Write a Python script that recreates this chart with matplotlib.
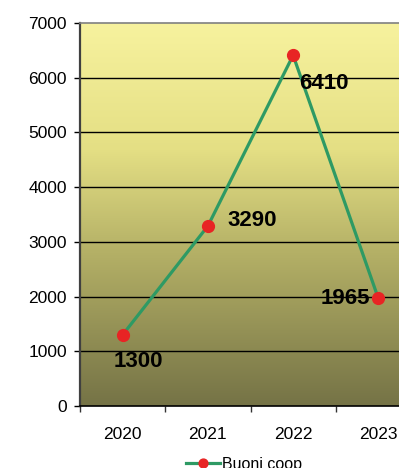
import numpy as np
import matplotlib
matplotlib.use("Agg")
import matplotlib.pyplot as plt
from matplotlib.colors import LinearSegmentedColormap

years = ["2020", "2021", "2022", "2023"]
buoni_coop = [1300, 3290, 6410, 1965]
series_name = "Buoni coop"
y_ticks = [0, 1000, 2000, 3000, 4000, 5000, 6000, 7000]
# label offsets (points) relative to each marker
label_offsets = [(11, -19), (32, 4), (22, -20), (-24, 0)]

plt.rcParams["font.family"] = ["Liberation Sans", "DejaVu Sans"]

W, H = 399, 468
fig = plt.figure(figsize=(W / 100, H / 100), dpi=100)
ax = fig.add_axes([80 / W, 1 - 406 / H, 341 / W, 383 / H])

x = np.arange(len(years))
ax.set_xlim(-0.5, len(years) - 0.5)
ax.set_ylim(0, 7000)

# vertical gradient background
grad = LinearSegmentedColormap.from_list(
    "bg",
    [(0.0, (117/255, 115/255, 70/255)),
     (0.4, (180/255, 176/255, 102/255)),
     (0.67, (228/255, 223/255, 132/255)),
     (1.0, (247/255, 242/255, 158/255))])
g = np.linspace(0, 1, 256).reshape(-1, 1)
ax.imshow(g, cmap=grad, origin="lower", aspect="auto",
          extent=(-0.5, len(years) - 0.5, 0, 7000), zorder=0)

for yv in y_ticks[1:-1]:
    ax.axhline(yv, color="black", lw=1.0, zorder=1)

ax.plot(x, buoni_coop, color="#2E9A64", lw=2.3, zorder=3,
        marker="o", markersize=8.5, markerfacecolor="#E82424",
        markeredgecolor="#E82424", label=series_name)

for xi, v, (dx, dy) in zip(x, buoni_coop, label_offsets):
    ax.annotate(f"{v}", (xi, v), xytext=(dx, dy), textcoords="offset points",
                ha="center", va="center", fontsize=16, fontweight="bold",
                color="black", zorder=4)

ax.set_yticks(y_ticks)
ax.set_yticklabels([str(t) for t in y_ticks], fontsize=12.5)
ax.tick_params(axis="y", length=4.5, width=1, pad=5, color="black")

ax.set_xticks(x)
ax.set_xticklabels(years, fontsize=12.5)
ax.set_xticks(np.arange(len(years)) - 0.5, minor=True)
ax.tick_params(axis="x", which="major", length=0, pad=15)
ax.tick_params(axis="x", which="minor", length=4.5, width=1, color="#333333")

ax.spines["top"].set_color("#808080")
ax.spines["top"].set_linewidth(1.2)
ax.spines["left"].set_color("#404040")
ax.spines["left"].set_linewidth(1.6)
ax.spines["bottom"].set_color("black")
ax.spines["bottom"].set_linewidth(1.2)
ax.spines["right"].set_visible(False)

fig.legend(loc="center left", bbox_to_anchor=(186 / W, 1 - 464 / H),
           frameon=False, fontsize=11.5, borderpad=0, borderaxespad=0,
           handlelength=2.1, handletextpad=0.15, markerscale=0.75)

fig.savefig("out.png", dpi=100)
